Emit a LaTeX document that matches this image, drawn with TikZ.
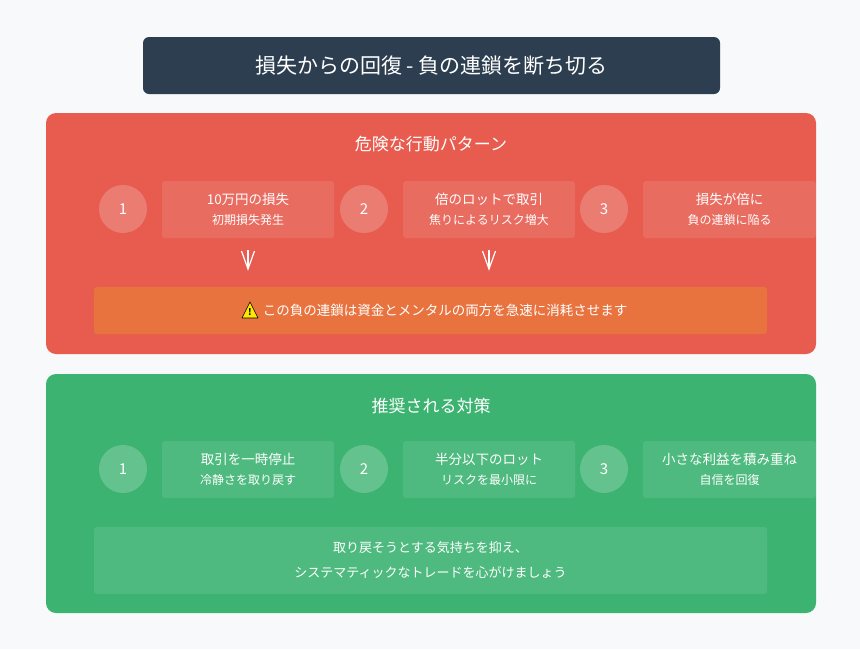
\documentclass[tikz,border=0pt]{standalone}
\usepackage{fontspec}
\setmainfont{Noto Sans CJK JP}
\begin{document}
\begin{tikzpicture}[x=1pt,y=-1pt,
 panel/.style={rounded corners=10pt},
 circ/.style={circle,fill=white,fill opacity=0.2,minimum size=48pt,inner sep=0pt,text opacity=1,text=white,font=\fontsize{15}{18}\selectfont},
 stepbox/.style={rounded corners=3pt,fill=white,fill opacity=0.1,text opacity=1,text=white,inner sep=0pt,align=center,font=\fontsize{13.5}{20}\selectfont},
 ttl/.style={text=white,font=\fontsize{17}{20}\selectfont},
 arr/.style={white,line width=1.2pt}]
\definecolor{bg}{HTML}{F7F9FB}
\definecolor{navy}{HTML}{2D3E50}
\definecolor{red}{HTML}{E75C4F}
\definecolor{org}{HTML}{E8733F}
\definecolor{grn}{HTML}{3CB371}
\fill[bg] (0,0) rectangle (860,649);
\useasboundingbox (0,0) rectangle (860,649);
\node[fill=navy,rounded corners=6pt,minimum width=577pt,minimum height=57pt,text=white,font=\fontsize{21}{24}\selectfont] (title) at (431.5,65.5) {損失からの回復 - 負の連鎖を断ち切る};
% red panel
\fill[red,panel] (46,113) rectangle (816,354);
\node[ttl] (rt) at (431,144) {危険な行動パターン};
\node[circ] (r1) at (123,209) {1};
\node[circ] (r2) at (364,209) {2};
\node[circ] (r3) at (604,209) {3};
\node[stepbox,minimum width=172pt,minimum height=57pt] (rb1) at (248,209.5) {10万円の損失\\{\fontsize{12}{14}\selectfont 初期損失発生}};
\node[stepbox,minimum width=172pt,minimum height=57pt] (rb2) at (489,209.5) {倍のロットで取引\\{\fontsize{12}{14}\selectfont 焦りによるリスク増大}};
\node[stepbox,minimum width=173pt,minimum height=57pt] (rb3) at (729.5,209.5) {損失が倍に\\{\fontsize{12}{14}\selectfont 負の連鎖に陥る}};
\coordinate (a1) at (248,269); \coordinate (a2) at (489,269);
\draw[arr] (248,250) -- (a1); \draw[arr,line join=miter] (241.5,251) -- (a1) -- (254.5,251);
\draw[arr] (489,250) -- (a2); \draw[arr,line join=miter] (482.5,251) -- (a2) -- (495.5,251);
\fill[org,rounded corners=3pt] (94,287) rectangle (767,334);
\node[text=white,font=\fontsize{13.5}{16}\selectfont] (warn) at (445,310) {この負の連鎖は資金とメンタルの両方を急速に消耗させます};
\filldraw[fill=yellow!90!orange,draw=black,line width=0.6pt,line join=round] (242,318) -- (258,318) -- (250,302) -- cycle;
\node[font=\bfseries\fontsize{9}{9}\selectfont,inner sep=0pt] (ex) at (250,312) {!};
% green panel
\fill[grn,panel] (46,374) rectangle (816,613);
\node[ttl] (gt) at (431,406) {推奨される対策};
\node[circ] (g1) at (123,469) {1};
\node[circ] (g2) at (364,469) {2};
\node[circ] (g3) at (604,469) {3};
\node[stepbox,minimum width=172pt,minimum height=57pt] (gb1) at (248,469.5) {取引を一時停止\\{\fontsize{12}{14}\selectfont 冷静さを取り戻す}};
\node[stepbox,minimum width=172pt,minimum height=57pt] (gb2) at (489,469.5) {半分以下のロット\\{\fontsize{12}{14}\selectfont リスクを最小限に}};
\node[stepbox,minimum width=173pt,minimum height=57pt] (gb3) at (729.5,469.5) {小さな利益を積み重ね\\{\fontsize{12}{14}\selectfont 自信を回復}};
\node[stepbox,minimum width=673pt,minimum height=67pt,font=\fontsize{13}{25}\selectfont] (note) at (430.5,560.5) {取り戻そうとする気持ちを抑え、\\システマティックなトレードを心がけましょう};
\end{tikzpicture}
\end{document}
